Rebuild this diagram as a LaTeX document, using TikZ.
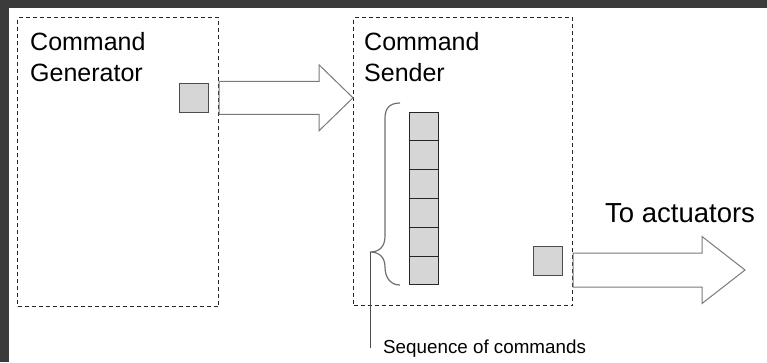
\documentclass[tikz,border=0pt]{standalone}
\usepackage{fontspec}
\setmainfont{Liberation Sans}
\usetikzlibrary{calc}
\definecolor{panel}{HTML}{3B3B3B}
\definecolor{tokenfill}{HTML}{D6D6D6}
\definecolor{arrowline}{HTML}{7A7A7A}
\definecolor{braceline}{HTML}{707070}
\begin{document}
\begin{tikzpicture}[x=1pt,y=-1pt,
  frame/.style={draw=black!85, dash pattern=on 4pt off 3pt, line width=1.2pt,
    anchor=north west, inner sep=0pt},
  title/.style={anchor=base west, inner sep=0pt, font=\fontsize{25}{30}\selectfont},
  token/.style={draw=black!70, fill=tokenfill, line width=1pt, minimum size=29pt, inner sep=0pt},
  cell/.style={draw=black!85, fill=tokenfill, line width=1pt, minimum width=29pt,
    minimum height=28.83pt, inner sep=0pt},
  fatarrow/.style={draw=arrowline, fill=white, line width=1pt, line join=miter},
  brace/.style={draw=braceline, line width=1.2pt},
  leader/.style={draw=black!70, line width=1pt}]
\useasboundingbox (0,0) rectangle (767,362);
% dark surround and white sheet
\fill[panel] (0,0) rectangle (767,362);
\fill[white] (9,7.5) rectangle (767,362);

% the two component frames
\node[frame, minimum width=201pt, minimum height=289pt] (gen) at (17,17) {};
\node[frame, minimum width=219pt, minimum height=288pt] (sender) at (353,17) {};

\node[title] (genA) at (30,50.7) {Command};
\node[title] (genB) at (30,81.7) {Generator};
\node[title] (sendA) at (364,50.7) {Command};
\node[title] (sendB) at (364,81.7) {Sender};

% single commands
\node[token] (q1) at (193.8,97.8) {};
\node[token] (q2) at (547.8,261.2) {};

% queue of pending commands
\foreach \i in {1,...,6}
  \node[cell] (c\i) at (424,{112+28.83*(\i-0.5)}) {};

% block arrow from generator to sender
\coordinate (a1s) at (gen.east |- q1.center);
\coordinate (a1e) at (sender.west |- q1.center);
\draw[fatarrow] ($(a1s)+(0,-16.5)$) -- ($(a1e)+(-34,-16.5)$) -- ($(a1e)+(-34,-33)$)
  -- (a1e) -- ($(a1e)+(-34,33)$) -- ($(a1e)+(-34,16.5)$) -- ($(a1s)+(0,16.5)$) -- cycle;

% block arrow out of the sender
\coordinate (out) at (745,270);
\coordinate (a2s) at (sender.east |- out);
\draw[fatarrow] ($(a2s)+(0,-17)$) -- ($(out)+(-43,-17)$) -- ($(out)+(-43,-33.5)$)
  -- (out) -- ($(out)+(-43,33.5)$) -- ($(out)+(-43,17)$) -- ($(a2s)+(0,17)$) -- cycle;
\node[anchor=base west, inner sep=0pt, font=\fontsize{27.5}{32}\selectfont] (act) at (605,222.7) {To actuators};

% brace over the queue and its label
\coordinate (bt) at (370,252);
\draw[brace] (400,103) .. controls (390,103) and (385,108) .. (385,118) -- (385,236)
  .. controls (385,246) and (380,252) .. (bt)
  .. controls (380,252) and (385,258) .. (385,267)
  .. controls (385,277) and (390,285) .. (400,285);
\node[anchor=base west, inner sep=0pt, font=\fontsize{18.8}{22}\selectfont] (seq) at (383,353) {Sequence of commands};
\coordinate (lend) at (370,348);
\draw[leader] (bt) -- (lend);
\end{tikzpicture}
\end{document}
